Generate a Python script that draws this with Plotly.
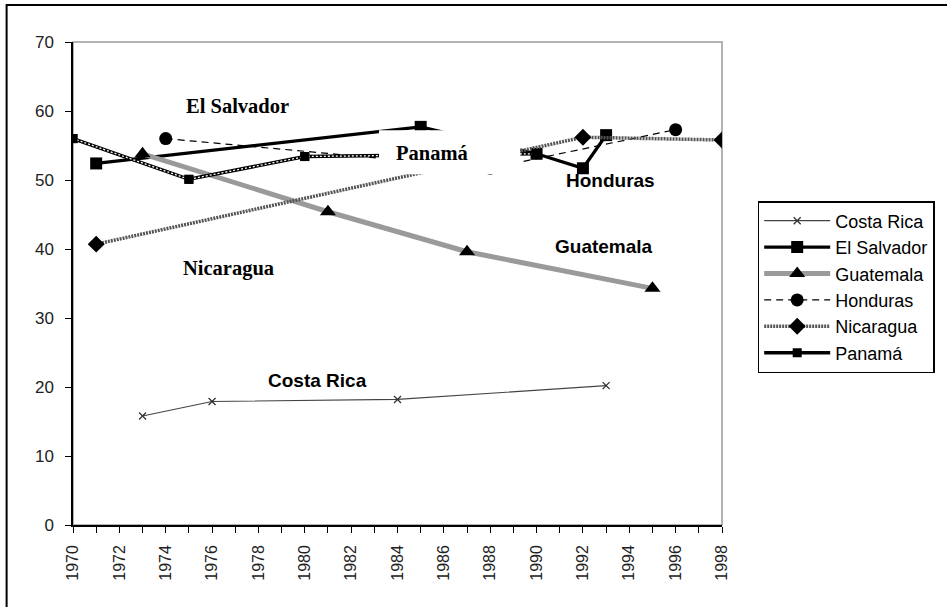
import plotly.graph_objects as go

# ---------------- data ----------------
years_costa_rica = [1973, 1976, 1984, 1993]
costa_rica = [15.8, 17.9, 18.2, 20.2]

years_el_salvador = [1971, 1985, 1990, 1992, 1993]
el_salvador = [52.4, 57.7, 53.8, 51.7, 56.5]

years_guatemala = [1973, 1981, 1987, 1995]
guatemala = [53.8, 45.4, 39.6, 34.3]

years_honduras = [1974, 1988, 1996]
honduras = [56.0, 51.7, 57.3]

years_nicaragua = [1971, 1992, 1998]
nicaragua = [40.7, 56.2, 55.8]

years_panama = [1970, 1975, 1980, 1990]
panama = [56.0, 50.1, 53.4, 53.8]

x_tick_labels = ["1970", "1972", "1974", "1976", "1978", "1980", "1982", "1984",
                 "1986", "1988", "1990", "1992", "1994", "1996", "1998"]
y_tick_labels = ["0", "10", "20", "30", "40", "50", "60", "70"]

SANS = "Arial, 'Liberation Sans', sans-serif"
SERIF = "'Times New Roman', 'Liberation Serif', serif"

fig = go.Figure()

fig.add_trace(go.Scatter(
    x=years_costa_rica, y=costa_rica, name="Costa Rica", mode="lines+markers",
    line=dict(color="#444444", width=1.2),
    marker=dict(symbol="x-thin", size=7, line=dict(color="#333333", width=1.3))))

fig.add_trace(go.Scatter(
    x=years_el_salvador, y=el_salvador, name="El Salvador", mode="lines+markers",
    line=dict(color="black", width=3.3),
    marker=dict(symbol="square", size=12, color="black")))

fig.add_trace(go.Scatter(
    x=years_guatemala, y=guatemala, name="Guatemala", mode="lines+markers",
    line=dict(color="#9a9a9a", width=5),
    marker=dict(symbol="triangle-up", size=14, color="black")))

fig.add_trace(go.Scatter(
    x=years_honduras, y=honduras, name="Honduras", mode="lines+markers",
    line=dict(color="black", width=1.2, dash="7px,5px"),
    marker=dict(symbol="circle", size=13, color="black")))

fig.add_trace(go.Scatter(
    x=years_nicaragua, y=nicaragua, name="Nicaragua", mode="lines+markers",
    line=dict(color="#555555", width=3.5, dash="2px,1px"),
    marker=dict(symbol="diamond", size=13, color="black")))

fig.add_trace(go.Scatter(
    x=years_panama, y=panama, name="Panamá", mode="lines+markers",
    line=dict(color="black", width=3.5),
    marker=dict(symbol="square", size=9, color="black")))
fig.add_trace(go.Scatter(
    x=years_panama, y=panama, mode="lines", showlegend=False, hoverinfo="skip",
    line=dict(color="white", width=1.3, dash="2px,2px")))
fig.add_trace(go.Scatter(
    x=years_panama, y=panama, mode="markers", showlegend=False, hoverinfo="skip",
    marker=dict(symbol="square", size=9, color="black")))

# series labels
label_specs = [
    ("El Salvador", 1977.1, 60.7, SERIF, 20.5),
    ("Nicaragua", 1976.7, 37.2, SERIF, 20.5),
    ("Panamá", 1985.5, 53.9, SERIF, 20.5),
    ("Honduras", 1993.2, 50.0, SANS, 19),
    ("Guatemala", 1992.9, 40.3, SANS, 19),
    ("Costa Rica", 1980.55, 21.0, SANS, 19),
]
annotations = []
for txt, ax, ay, fam, sz in label_specs:
    annotations.append(dict(x=ax, y=ay, xref="x", yref="y", text="<b>%s</b>" % txt,
                            showarrow=False, font=dict(family=fam, size=sz, color="black"),
                            xanchor="center", yanchor="middle"))

shapes = [
    # white box behind the Panamá label (hides lines)
    dict(type="rect", xref="x", yref="y", x0=1983.2, x1=1989.3, y0=50.85, y1=57.2,
         fillcolor="white", line=dict(width=0), layer="above"),
    # gray plot-area frame
    dict(type="rect", xref="paper", yref="paper", x0=0, x1=1, y0=0, y1=1,
         line=dict(color="#9a9a9a", width=1.5), layer="below"),
    # outer chart border (left / top visible)
    dict(type="rect", xref="paper", yref="paper", x0=-0.1023, x1=1.45, y0=-0.26, y1=1.0765,
         line=dict(color="black", width=2), layer="below"),
]

fig.update_layout(
    width=947, height=607,
    margin=dict(l=72.7, r=222, t=41.7, b=82),
    paper_bgcolor="white", plot_bgcolor="white",
    showlegend=True,
    legend=dict(x=1.055, y=0.6708, xanchor="left", yanchor="top",
                bgcolor="white", bordercolor="black", borderwidth=1.5,
                font=dict(family=SANS, size=18, color="black"),
                itemwidth=66, tracegroupgap=0),
    annotations=annotations,
    shapes=shapes,
)

fig.update_xaxes(
    range=[1970, 1998],
    tickmode="array", tickvals=[int(t) for t in x_tick_labels], ticktext=x_tick_labels,
    tickangle=-90, ticks="outside", ticklen=6, tickcolor="black", tickwidth=1,
    minor=dict(dtick=1, ticks="outside", ticklen=6, tickcolor="black", tickwidth=1, showgrid=False),
    showline=True, linecolor="black", linewidth=1.5,
    showgrid=False, zeroline=False,
    tickfont=dict(family=SANS, size=16, color="#222222"),
    ticklabelstandoff=6,
)
fig.update_yaxes(
    range=[0, 70],
    tickmode="array", tickvals=[int(t) for t in y_tick_labels], ticktext=y_tick_labels,
    ticks="outside", ticklen=6, tickcolor="black", tickwidth=1,
    showline=True, linecolor="black", linewidth=1.5,
    showgrid=False, zeroline=False,
    tickfont=dict(family=SANS, size=17, color="#222222"),
    ticklabelstandoff=8,
)

# remove the default 8px page margin so the figure sits at the window origin
fig.write_html("out.html", config={"displayModeBar": False},
               post_script="document.body.style.margin='0px';")
